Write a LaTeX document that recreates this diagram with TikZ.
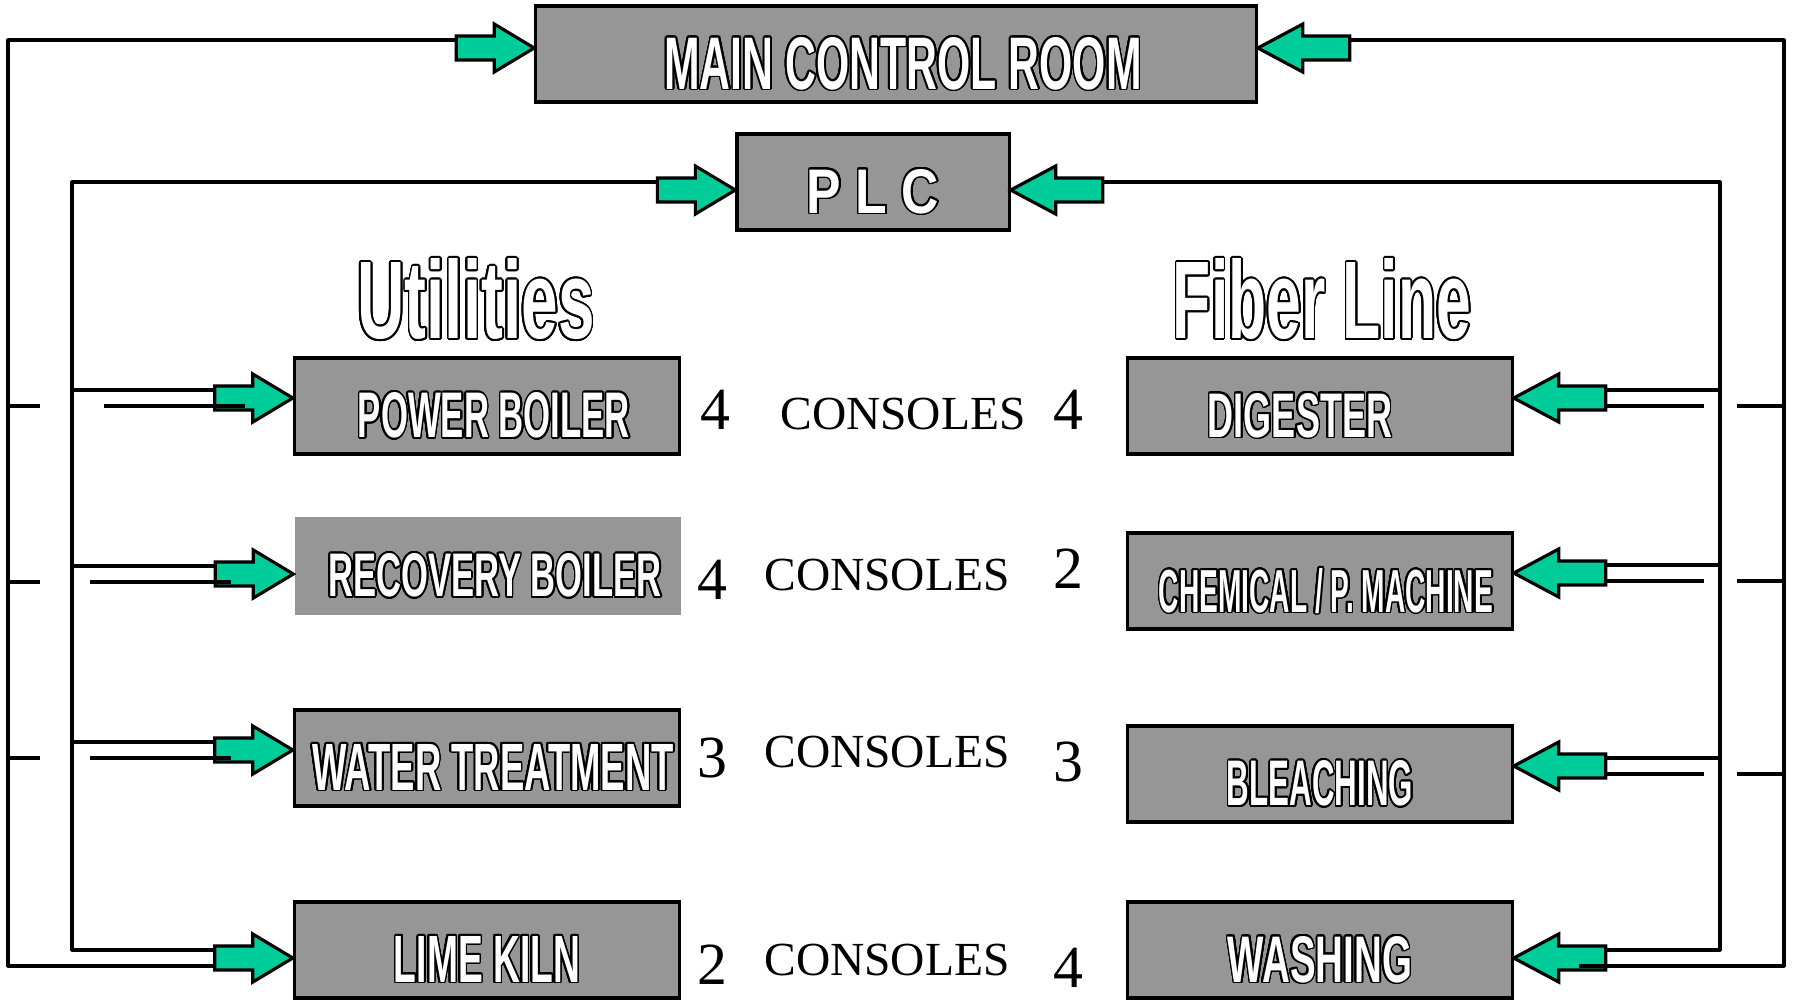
\documentclass[tikz,border=0pt]{standalone}
\usepackage{fontspec}
\setmainfont{Liberation Serif}
\newfontfamily\labelfont{Liberation Sans}
\usepackage{graphicx}
\usepackage[copies]{contour}
\usetikzlibrary{calc}
\definecolor{boxgray}{RGB}{150,150,150}
\definecolor{arrowgreen}{RGB}{0,204,153}
\contourlength{0.5pt}
\contournumber{24}
% white outlined text
\newcommand{\blab}[3]{\raisebox{-0.09cm}[\height][0pt]{\contour{black}{\resizebox{#1}{#2}{\labelfont\bfseries #3}}}}
\newcommand{\otitle}[3]{\contour{black}{\resizebox{#1}{#2}{\labelfont\bfseries #3}}}
% block arrows, tip at #1, tail points #2u and #2d
\newcommand{\garrowR}[2]{%
  \draw[garrow] (#1) -- ++(-40,-24) -- ++(0,12) -- ++(-38,0) -- ++(0,24) -- ++(38,0) -- ++(0,12) -- cycle;
  \coordinate (#2u) at ($(#1)+(-78,-8)$);
  \coordinate (#2d) at ($(#1)+(-78,8)$);}
\newcommand{\garrowL}[2]{%
  \draw[garrow] (#1) -- ++(45,-24) -- ++(0,12) -- ++(47,0) -- ++(0,24) -- ++(-47,0) -- ++(0,12) -- cycle;
  \coordinate (#2u) at ($(#1)+(92,-8)$);
  \coordinate (#2d) at ($(#1)+(92,8)$);}

\begin{document}
\begin{tikzpicture}[x=0.01cm,y=-0.01cm]
\tikzset{box/.style = {draw,line width=0.9pt,fill=boxgray,text=white,minimum height=0.96cm,inner sep=0pt}}
\tikzset{title/.style = {text=white,inner sep=0pt}}
\tikzset{bus/.style = {line width=0.9pt,line join=round}}
\tikzset{garrow/.style = {draw,line width=0.9pt,fill=arrowgreen,line join=miter}}
\tikzset{num/.style = {font=\fontsize{17}{17}\selectfont,inner sep=0pt}}
\tikzset{cons/.style = {font=\fontsize{13.5}{13.5}\selectfont,inner sep=0pt}}
\useasboundingbox (0,0) rectangle (1795,999);
% boxes
\node[box,minimum width=7.2cm] (mcr) at (896,54) {\hspace{0.14cm}\blab{4.77cm}{0.52cm}{MAIN CONTROL ROOM}};
\node[box,minimum width=2.72cm] (plc) at (873,182) {\blab{1.32cm}{0.44cm}{P L C}};
\node[title] (util) at (476,300) {\otitle{2.37cm}{0.80cm}{Utilities}};
\node[title] (fiber) at (1322,300) {\otitle{2.98cm}{0.80cm}{Fiber Line}};
\node[box,minimum width=3.85cm] (pb) at (487,406) {\hspace{0.14cm}\blab{2.72cm}{0.45cm}{POWER BOILER}};
\node[box,draw=none,minimum width=3.86cm,minimum height=0.98cm] (rb) at (488,566) {\hspace{0.14cm}\blab{3.33cm}{0.43cm}{RECOVERY BOILER}};
\node[box,minimum width=3.85cm] (wt) at (487,758) {\hspace{0.12cm}\blab{3.61cm}{0.46cm}{WATER TREATMENT}};
\node[box,minimum width=3.85cm] (lk) at (487,950) {\blab{1.86cm}{0.46cm}{LIME KILN}};
\node[box,minimum width=3.84cm] (dg) at (1320,406) {\hspace{-0.4cm}\blab{1.84cm}{0.44cm}{DIGESTER}};
\node[box,minimum width=3.84cm] (ch) at (1320,581) {\hspace{0.12cm}\blab{3.34cm}{0.44cm}{CHEMICAL / P. MACHINE}};
\node[box,minimum width=3.84cm] (bl) at (1320,774) {\blab{1.86cm}{0.45cm}{BLEACHING}};
\node[box,minimum width=3.84cm] (wa) at (1320,950) {\blab{1.84cm}{0.46cm}{WASHING}};
% consoles
\node[num] (pbn) at (715,410) {4};
\node[cons] (cons1) at (903,414) {CONSOLES};
\node[num] (dgn) at (1068,410) {4};
\node[num] (rbn) at (712,580) {4};
\node[cons] (cons2) at (887,575) {CONSOLES};
\node[num] (chn) at (1068,569) {2};
\node[num] (wtn) at (712,758) {3};
\node[cons] (cons3) at (887,752) {CONSOLES};
\node[num] (bln) at (1068,762) {3};
\node[num] (lkn) at (712,965) {2};
\node[cons] (cons4) at (887,960) {CONSOLES};
\node[num] (wan) at (1068,968) {4};
% arrow tips
\coordinate (mcrLT) at ($(mcr.west)+(0,-6)$);
\coordinate (mcrRT) at ($(mcr.east)+(0,-6)$);
\coordinate (plcLT) at ($(plc.west)+(0,8)$);
\coordinate (plcRT) at ($(plc.east)+(0,8)$);
\coordinate (pbT) at ($(pb.west)+(0,-8)$);
\coordinate (rbT) at ($(rb.west)+(0,8)$);
\coordinate (wtT) at ($(wt.west)+(0,-8)$);
\coordinate (lkT) at ($(lk.west)+(0,8)$);
\coordinate (dgT) at ($(dg.east)+(0,-8)$);
\coordinate (chT) at ($(ch.east)+(0,-8)$);
\coordinate (blT) at ($(bl.east)+(0,-8)$);
\coordinate (waT) at ($(wa.east)+(0,8)$);
\garrowR{mcrLT}{mcrLA}
\garrowL{mcrRT}{mcrRA}
\garrowR{plcLT}{plcLA}
\garrowL{plcRT}{plcRA}
\garrowR{pbT}{pbA}
\garrowR{rbT}{rbA}
\garrowR{wtT}{wtA}
\garrowR{lkT}{lkA}
\garrowL{dgT}{dgA}
\garrowL{chT}{chA}
\garrowL{blT}{blA}
\garrowL{waT}{waA}
% buses
\coordinate (lo) at (8,0);
\coordinate (li) at (72,0);
\coordinate (ri) at (1720,0);
\coordinate (ro) at (1784,0);
\draw[bus] (mcrLAu) -| (lo |- lkAd) -- (lkAd);
\draw[bus] (plcLAu) -| (li |- lkAu) -- (lkAu);
\draw[bus] (mcrRAu) -| (ro |- waAd) -- ($(waAd)+(-27,0)$);
\draw[bus] (plcRAu) -| (ri |- waAu) -- (waAu);
% left rows
\draw[bus] (li |- pbAu) -- (pbAu);
\draw[bus] (lo |- pbAd) -- ++(32,0);
\draw[bus] ($(li |- pbAd)+(32,0)$) -- ($(pbAd)+(30,0)$);
\draw[bus] (li |- rbAu) -- (rbAu);
\draw[bus] (lo |- rbAd) -- ++(32,0);
\draw[bus] ($(li |- rbAd)+(18,0)$) -- ($(rbAd)+(16,0)$);
\draw[bus] (li |- wtAu) -- (wtAu);
\draw[bus] (lo |- wtAd) -- ++(32,0);
\draw[bus] ($(li |- wtAd)+(18,0)$) -- ($(wtAd)+(16,0)$);
% right rows
\draw[bus] (dgAu) -- (ri |- dgAu);
\draw[bus] (dgAd) -- ($(ri |- dgAd)+(-16,0)$);
\draw[bus] ($(ri |- dgAd)+(17,0)$) -- (ro |- dgAd);
\draw[bus] (chAu) -- (ri |- chAu);
\draw[bus] (chAd) -- ($(ri |- chAd)+(-16,0)$);
\draw[bus] ($(ri |- chAd)+(17,0)$) -- (ro |- chAd);
\draw[bus] (blAu) -- (ri |- blAu);
\draw[bus] (blAd) -- ($(ri |- blAd)+(-16,0)$);
\draw[bus] ($(ri |- blAd)+(17,0)$) -- (ro |- blAd);
\end{tikzpicture}
\end{document}
